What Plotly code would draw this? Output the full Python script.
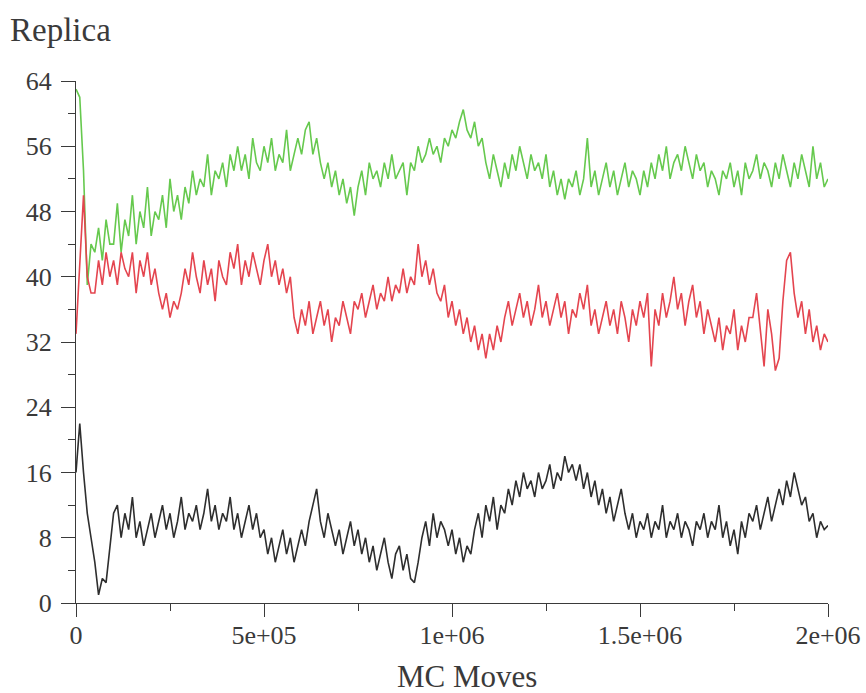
import plotly.graph_objects as go

step = 10000
n = 201
moves = [i * step for i in range(n)]

green = [
    63, 62, 53, 39, 44, 43, 46, 42, 47, 44,
    44, 49, 43, 47, 45, 50, 44, 48, 46, 51,
    45, 48, 47, 50, 46, 52, 48, 50, 47, 51,
    49, 53, 50, 52, 51, 55, 50, 53, 52, 54,
    51, 55, 53, 56, 53, 55, 52, 57, 54, 53,
    56, 54, 57, 53, 55, 54, 58, 53, 55, 57,
    55, 58, 59, 55, 57, 54, 52, 54, 51, 53,
    50, 52, 49, 51, 47.5, 51, 53, 50, 54, 52,
    53, 51, 54, 52, 55, 52, 53, 54, 50, 54,
    53, 56, 54, 55, 57, 55, 56, 54, 57, 56,
    58, 57, 59, 60.5, 58, 57, 59, 56, 57, 54,
    52, 55, 53, 51, 54, 52, 55, 53, 56, 54,
    52, 55, 53, 54, 52, 55, 51, 53, 50, 52,
    49.5, 52, 51, 53, 50, 52, 57, 51, 53, 50,
    52, 54, 51, 53, 50, 52, 54, 51, 53, 52,
    50, 53, 51, 54, 52, 55, 53, 56, 52, 54,
    55, 53, 56, 54, 52, 55, 53, 54, 51, 53,
    52, 50, 53, 52, 54, 51, 53, 50, 54, 52,
    53, 55, 52, 54, 53, 51, 54, 52, 55, 53,
    51, 54, 52, 55, 53, 51, 56, 52, 54, 51,
    52,
]

red = [
    33, 42, 50, 40, 38, 38, 42, 39, 43, 40,
    42, 39, 43, 41, 40, 43, 38, 42, 40, 43,
    39, 41, 38, 36, 38, 35, 37, 36, 38, 41,
    39, 43, 40, 38, 42, 39, 41, 37, 42, 40,
    39, 43, 41, 44, 39, 42, 40, 43, 41, 39,
    42, 44, 40, 42, 39, 41, 38, 40, 35, 33,
    36, 34, 37, 33, 35, 37, 34, 36, 32, 35,
    34, 37, 35, 33, 37, 36, 38, 35, 37, 39,
    36, 38, 37, 40, 37, 39, 38, 41, 38, 40,
    39, 44, 40, 42, 39, 41, 38, 37, 39, 35,
    37, 34, 36, 33, 35, 32, 34, 31, 33, 30,
    33, 31, 34, 32, 35, 37, 34, 36, 38, 35,
    37, 34, 36, 39, 35, 37, 34, 36, 38, 35,
    37, 33, 36, 35, 38, 36, 39, 34, 36, 33,
    35, 37, 34, 36, 33, 37, 35, 32, 36, 34,
    37, 35, 38, 29, 36, 34, 38, 35, 37, 40,
    36, 38, 34, 37, 39, 35, 37, 33, 36, 34,
    32, 35, 31, 34, 33, 36, 31, 34, 32, 35,
    35, 38, 33, 29, 36, 33, 28.5, 30, 37, 42,
    43, 38, 35, 37, 33, 36, 32, 34, 31, 33,
    32,
]

black = [
    16, 22, 16, 11, 8, 5, 1, 3, 2.5, 7,
    11, 12, 8, 11, 9, 13, 8, 10, 7, 9,
    11, 8, 10, 12, 9, 11, 8, 10, 13, 9,
    11, 10, 12, 9, 11, 14, 10, 12, 9, 11,
    10, 13, 9, 11, 8, 10, 12, 9, 11, 8,
    9, 6, 8, 5, 7, 9, 6, 8, 5, 7,
    9, 7, 10, 12, 14, 10, 8, 11, 9, 7,
    9, 6, 8, 10, 7, 9, 6, 8, 5, 7,
    4, 6, 8, 5, 3, 6, 7, 4, 6, 3,
    2.5, 5, 8, 10, 7, 11, 8, 10, 9, 7,
    9, 6, 8, 5, 7, 6, 9, 11, 8, 12,
    10, 13, 9, 12, 11, 14, 12, 15, 13, 16,
    14, 15, 13, 16, 14, 15, 17, 14, 16, 15,
    18, 16, 17, 15, 17, 14, 16, 13, 15, 12,
    14, 11, 13, 10, 12, 14, 11, 9, 11, 8,
    10, 9, 11, 8, 10, 9, 12, 8, 10, 9,
    11, 8, 10, 9, 7, 10, 9, 11, 8, 10,
    9, 12, 8, 10, 7, 9, 6, 10, 8, 11,
    10, 12, 9, 11, 13, 10, 12, 14, 12, 15,
    13, 16, 14, 12, 13, 10, 11, 8, 10, 9,
    9.5,
]

x_tickvals = [0, 500000, 1000000, 1500000, 2000000]
x_ticktext = ["0", "5e+05", "1e+06", "1.5e+06", "2e+06"]
y_tickvals = [0, 8, 16, 24, 32, 40, 48, 56, 64]

fig = go.Figure()
fig.add_trace(go.Scatter(x=moves, y=green, mode="lines",
                         line=dict(color="#66c94e", width=1.6), showlegend=False))
fig.add_trace(go.Scatter(x=moves, y=red, mode="lines",
                         line=dict(color="#e4454f", width=1.6), showlegend=False))
fig.add_trace(go.Scatter(x=moves, y=black, mode="lines",
                         line=dict(color="#2e2e2e", width=1.6), showlegend=False))

font_family = "Liberation Serif"
axis_color = "#3a3a3a"
text_color = "#3a3a3a"

fig.update_layout(
    width=866, height=693,
    margin=dict(l=76, r=38, t=81, b=90),
    paper_bgcolor="white", plot_bgcolor="white",
    font=dict(family=font_family, color=text_color, size=26),
    xaxis=dict(
        range=[0, 2000000], showgrid=False, zeroline=False, automargin=False,
        showline=True, linecolor=axis_color, linewidth=1.2,
        ticks="outside", ticklen=13, tickwidth=1.2, tickcolor=axis_color,
        tickvals=x_tickvals, ticktext=x_ticktext,
        tickfont=dict(size=26, family=font_family, color=text_color),
        ticklabelstandoff=-4,
        minor=dict(ticks="outside", ticklen=7, tickwidth=1.2, tickcolor=axis_color, dtick=250000, showgrid=False),
    ),
    yaxis=dict(
        range=[0, 64], showgrid=False, zeroline=False, automargin=False,
        showline=True, linecolor=axis_color, linewidth=1.2,
        ticks="outside", ticklen=14, tickwidth=1.2, tickcolor=axis_color,
        tickvals=y_tickvals,
        tickfont=dict(size=26, family=font_family, color=text_color),
        ticklabelstandoff=4,
        minor=dict(ticks="outside", ticklen=7, tickwidth=1.2, tickcolor=axis_color, dtick=4, showgrid=False),
    ),
    annotations=[
        dict(text="Replica", xref="paper", yref="paper", x=-0.091, y=1.098,
             xanchor="left", yanchor="middle", showarrow=False,
             font=dict(size=33, family=font_family, color=text_color)),
        dict(text="MC Moves", xref="paper", yref="paper", x=0.52, y=-0.14,
             xanchor="center", yanchor="middle", showarrow=False,
             font=dict(size=31, family=font_family, color=text_color)),
    ],
)

fig.write_html("out.html", config={"displayModeBar": False},
               post_script="document.body.style.margin='0';document.body.style.overflow='hidden';")
